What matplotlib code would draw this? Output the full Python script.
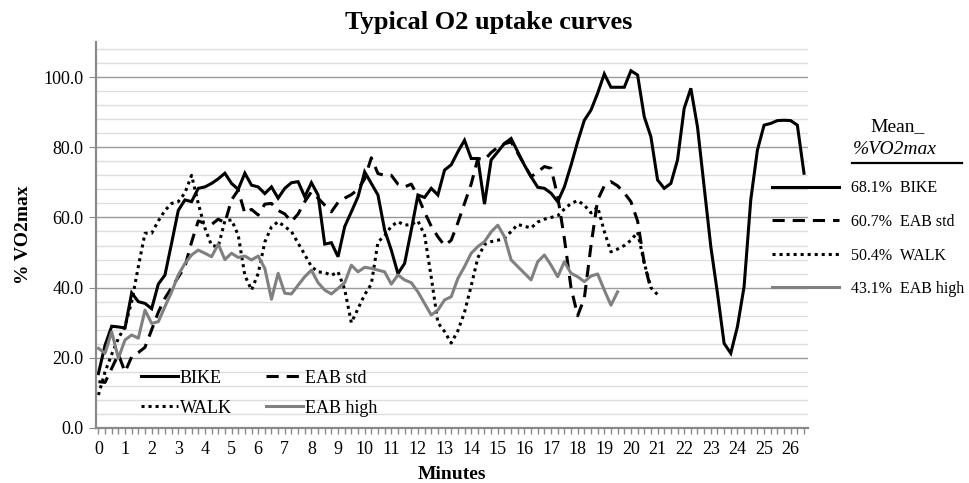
import numpy as np
import matplotlib.pyplot as plt
from matplotlib.lines import Line2D
from matplotlib.ticker import MultipleLocator, FormatStrFormatter

plt.rcParams['font.family'] = ['Liberation Serif', 'DejaVu Serif']

# samples every 15 s (0.25 min), % VO2max
step = 0.25

bike = [15.5, 23.6, 29.0, 28.8, 28.5, 38.5, 36.0, 35.5, 34.0, 41.0,
        43.6, 52.7, 62.0, 65.0, 64.5, 68.3, 68.7, 69.7, 71.0, 72.6,
        69.7, 68.0, 72.6, 69.2, 68.7, 66.8, 68.7, 65.5, 68.3, 69.9,
        70.2, 65.9, 69.9, 66.4, 52.4, 52.8, 48.8, 57.4, 61.6, 65.9,
        73.0, 69.7, 66.4, 56.4, 50.7, 44.0, 46.9, 56.4, 66.4, 65.7,
        68.3, 66.4, 73.5, 75.0, 78.7, 82.0, 76.8, 76.8, 63.8, 76.4,
        78.7, 81.1, 82.5, 78.7, 74.9, 71.6, 68.6, 68.3, 66.9, 64.5,
        68.7, 74.9, 81.6, 87.7, 90.6, 95.4, 100.9, 97.1, 97.1, 97.1,
        101.8, 100.6, 88.7, 83.0, 70.7, 68.3, 69.7, 76.4, 91.1, 96.8,
        85.8, 68.7, 51.7, 38.4, 24.1, 21.3, 28.9, 40.3, 65.0, 79.2,
        86.3, 86.8, 87.6, 87.7, 87.6, 86.3, 72.6]

eab_std = [13.2, 13.0, 17.0, 21.0, 16.0, 20.3, 21.5, 23.0, 28.0, 33.0,
           37.0, 40.0, 43.0, 46.0, 53.0, 59.0, 58.3, 58.0, 59.5, 58.5,
           65.0, 67.8, 61.2, 62.3, 60.7, 63.8, 64.0, 62.0, 61.0, 58.8,
           61.0, 64.5, 67.3, 65.5, 63.5, 61.6, 64.3, 65.5, 66.5, 68.0,
           71.0, 77.0, 72.5, 72.0, 72.0, 69.5, 68.7, 69.5, 66.0, 61.5,
           57.5, 54.5, 52.0, 53.5, 58.5, 64.0, 69.5, 76.8, 76.4, 78.5,
           80.0, 81.0, 81.5, 78.3, 75.0, 71.6, 73.0, 74.5, 74.0, 66.0,
           54.0, 40.0, 32.0, 37.0, 52.0, 65.0, 69.0, 70.2, 69.0, 67.0,
           64.5, 59.0, 47.0, 39.5]

walk = [9.4, 16.0, 21.0, 25.5, 29.0, 36.0, 46.0, 55.5, 55.5, 59.0,
        62.0, 64.0, 64.5, 67.0, 72.0, 64.0, 57.0, 52.0, 51.7, 59.0,
        59.3, 55.0, 43.5, 39.3, 44.0, 53.0, 57.3, 58.8, 57.4, 56.0,
        52.7, 49.4, 46.0, 44.5, 44.3, 43.5, 44.5, 39.5, 30.0, 34.0,
        38.0, 41.0, 53.0, 54.8, 57.5, 58.8, 57.8, 58.0, 59.0, 55.0,
        43.0, 30.0, 27.5, 24.2, 27.7, 33.0, 40.5, 48.5, 52.3, 53.1,
        53.5, 54.0, 56.0, 58.0, 57.5, 57.0, 58.7, 59.5, 60.0, 60.5,
        62.4, 64.0, 64.8, 63.5, 61.3, 63.0, 56.0, 50.2, 51.0, 52.0,
        53.5, 55.8, 47.0, 40.0, 38.0]

eab_high = [22.7, 21.3, 27.4, 19.9, 25.1, 26.5, 25.6, 33.6, 29.8, 30.3,
            34.6, 38.8, 43.6, 46.9, 49.3, 50.7, 49.8, 48.8, 52.4, 48.0,
            49.8, 48.6, 49.0, 47.9, 49.0, 45.5, 36.7, 44.1, 38.4, 38.2,
            40.7, 43.1, 45.0, 41.4, 39.3, 38.2, 39.8, 41.4, 46.4, 44.5,
            45.8, 45.5, 45.0, 44.5, 41.0, 43.6, 42.2, 41.4, 38.8, 35.5,
            32.2, 33.6, 36.5, 37.4, 42.6, 46.0, 49.8, 51.7, 53.1, 55.9,
            57.8, 54.5, 47.9, 46.0, 44.1, 42.2, 47.4, 49.3, 46.4, 43.1,
            47.4, 44.1, 43.1, 41.7, 43.3, 43.9, 39.3, 35.0, 38.8]

names = ['BIKE', 'EAB std', 'WALK', 'EAB high']
mean_pct = [68.1, 60.7, 50.4, 43.1]


def minutes(vals):
    return np.arange(len(vals)) * step


fig = plt.figure(figsize=(9.7, 4.83), dpi=100)
ax = fig.add_axes([96 / 970, 1 - 428 / 483, 712 / 970, 386 / 483])

lw = 2.2
l_bike, = ax.plot(minutes(bike), bike, color='black', lw=lw, solid_joinstyle='miter')
l_std, = ax.plot(minutes(eab_std), eab_std, color='black', lw=lw, linestyle=(0, (4, 2.6)))
l_walk, = ax.plot(minutes(walk), walk, color='black', lw=lw, linestyle=(0, (1, 1.3)))
l_high, = ax.plot(minutes(eab_high), eab_high, color='#808080', lw=lw)
lines = [l_bike, l_std, l_walk, l_high]

ax.set_xlim(-0.09, 26.65)
ax.set_ylim(0, 110)
ax.yaxis.set_major_locator(MultipleLocator(20))
ax.yaxis.set_minor_locator(MultipleLocator(4))
ax.yaxis.set_major_formatter(FormatStrFormatter('%.1f'))
ax.xaxis.set_major_locator(MultipleLocator(1))
ax.xaxis.set_minor_locator(MultipleLocator(0.25))

ax.grid(which='major', axis='y', color='#9a9a9a', lw=1.0)
ax.grid(which='minor', axis='y', color='#dedede', lw=1.0)
ax.set_axisbelow(True)

for s in ['top', 'right']:
    ax.spines[s].set_visible(False)
for s in ['left', 'bottom']:
    ax.spines[s].set_color('#8a8a8a')
    ax.spines[s].set_linewidth(1.6)

ax.tick_params(axis='y', which='major', length=5, color='#8a8a8a', labelsize=13, pad=4)
ax.tick_params(axis='y', which='minor', length=0)
ax.tick_params(axis='x', which='both', length=4, width=1, color='#8a8a8a', labelsize=13, pad=5)

ax.set_xlabel('Minutes', fontsize=14, fontweight='bold', labelpad=6)
ax.set_ylabel('% VO2max', fontsize=14, fontweight='bold', labelpad=8)

fig.text(489 / 970, 1 - 22 / 483, 'Typical O2 uptake curves', ha='center', va='center',
         fontsize=19, fontweight='bold')

# legend inside plot: 2 columns (filled column-wise)
order = [0, 2, 1, 3]
ax.legend([lines[i] for i in order], [names[i] for i in order], ncol=2,
          loc='lower left', bbox_to_anchor=(0.040, -0.013), frameon=False,
          fontsize=13, handlelength=2.05, handletextpad=0.1,
          columnspacing=1.9, labelspacing=0.72)

# mean legend on the right
fig.legend(lines, [f'{m:.1f}%  {n}' for m, n in zip(mean_pct, names)],
           loc='upper left', bbox_to_anchor=(758 / 970, 1 - 166 / 483),
           frameon=False, fontsize=11.5, handlelength=4.2, handletextpad=0.75,
           labelspacing=1.1)
fig.text(898 / 970, 1 - 127 / 483, 'Mean_', ha='center', va='center', fontsize=14)
fig.text(895 / 970, 1 - 150 / 483, '%VO2max', ha='center', va='center', fontsize=14,
         style='italic')
fig.add_artist(Line2D([852 / 970, 962 / 970], [1 - 163 / 483] * 2, color='black', lw=1.6))

fig.savefig('out.png', dpi=100)
